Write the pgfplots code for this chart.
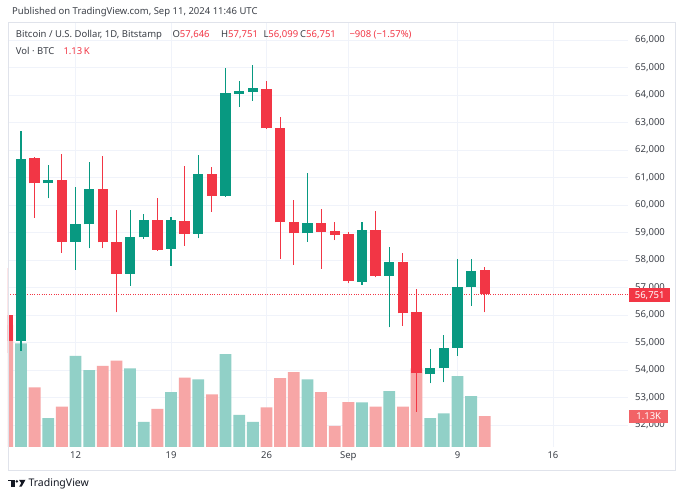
\documentclass[border=0pt]{standalone}
\usepackage{pgfplots}
\pgfplotsset{compat=1.18}
\usepackage{pgfplotstable}
\usepackage{fontspec}
\setmainfont{Noto Sans}
\definecolor{tvgreen}{RGB}{8,153,129}
\definecolor{tvred}{RGB}{242,54,69}
\definecolor{volgreen}{RGB}{145,208,199}
\definecolor{volred}{RGB}{247,166,166}
\definecolor{gridc}{RGB}{240,243,250}
\definecolor{framec}{RGB}{224,227,235}
\definecolor{txt}{RGB}{19,23,34}
\definecolor{txtg}{RGB}{60,64,72}
\definecolor{volbox}{RGB}{242,98,102}

% day index: 0 = Aug 12, 20 = Sep 1, 30 = Sep 11
\pgfplotstableread{
d o h l c v
-4 55055 62702 54691 61662 3.78
-2 60790 61455 60244 60909 1.05
0 58666 60666 57637 59310 3.33
1 59299 61553 58426 60571 2.81
4 57492 59819 57066 58848 2.87
5 58826 59673 58780 59455 0.92
7 58400 59575 57793 59455 2.00
9 58946 61818 58790 61128 2.47
11 60328 64971 60300 64062 3.39
12 64036 64509 63575 64146 1.17
13 64120 65091 63793 64244 0.92
17 58971 61153 58666 59335 2.47
21 57211 59371 57091 59091 1.63
23 57430 58484 55553 57928 2.04
26 53844 54764 53517 54084 1.05
27 54062 55273 53553 54801 1.23
28 54812 58037 54521 57030 2.59
29 57008 58037 56339 57611 1.86
}\up
\pgfplotstableread{
d o h l c v
-5 56000 57700 54600 55055 4.45
-3 61720 61760 59539 60790 2.18
-1 60909 61855 58266 58666 1.47
2 60571 61782 58426 58644 2.96
3 58655 59819 56099 57492 3.15
6 59455 60244 58330 58364 1.39
8 59430 61418 58510 58946 2.53
10 61128 61371 59757 60328 1.92
14 64207 64509 62760 62789 1.45
15 62789 63189 58037 59371 2.51
16 59393 60182 57818 58971 2.73
18 59335 59855 57673 59030 2.00
19 59055 59393 58727 58909 0.77
20 58946 59000 57153 57248 1.64
22 59091 59782 57372 57419 1.47
24 57928 58266 55600 56062 1.47
25 56121 56946 52484 53880 2.87
30 57646 57751 56099 56751 1.13
}\down

\pgfplotsset{tvbase/.style={at={(8pt,53pt)}, anchor=south west, scale only axis,
  width=620pt, height=424.3pt, xmin=-4.95, xmax=40.5},
  candle/.style={draw=none, mark=none,
  error bars/.cd, y dir=plus, y explicit, error mark=none,
  error bar style={draw=#1, line width=1.1pt}},
  body/.style={draw=none, mark=none,
  error bars/.cd, y dir=plus, y explicit, error mark=none,
  error bar style={draw=#1, line width=10.4pt}}}
\newcommand{\tf}{\fontsize{9.5}{11}\selectfont}

\begin{document}
\begin{tikzpicture}
\useasboundingbox (0pt,0pt) rectangle (683pt,500pt);
\fill[white] (0pt,0pt) rectangle (683pt,500pt);

% grid and scale labels
\begin{axis}[tvbase, ymin=51200, ymax=66629,
  axis line style={draw=none},
  major tick length=0pt,
  xtick={0,7,14,20,28,35}, xticklabels={12,19,26,Sep,9,16},
  ytick={52000,53000,...,66000},
  scaled y ticks=false,
  grid=major, grid style={gridc, line width=0.8pt},
  yticklabel pos=right,
  yticklabel style={anchor=west, inner sep=0pt, xshift=7pt, font=\tf, text=txtg},
  xticklabel style={font=\tf, text=txtg, yshift=-1pt},
  /pgf/number format/.cd, 1000 sep={,}, assume math mode=true]
\addplot[draw=none] coordinates {(0,60000)};
\end{axis}

% volume
\begin{axis}[tvbase, ymin=0, ymax=15.49, hide axis]
\addplot[ybar, bar width=11.8pt, bar shift=0pt, fill=volgreen, draw=none] table[x=d,y=v]{\up};
\addplot[ybar, bar width=11.8pt, bar shift=0pt, fill=volred, draw=none] table[x=d,y=v]{\down};
\coordinate (vl) at (axis cs:40.5,1.13);
\end{axis}

% candles
\begin{axis}[tvbase, ymin=51200, ymax=66629, hide axis]
\addplot[tvred, line width=0.7pt, dash pattern=on 0.8pt off 1.6pt] coordinates {(-4.95,56751) (40.5,56751)};
\addplot[candle=tvgreen] table[x=d, y=l, y error expr=\thisrow{h}-\thisrow{l}]{\up};
\addplot[candle=tvred] table[x=d, y=l, y error expr=\thisrow{h}-\thisrow{l}]{\down};
\addplot[body=tvgreen] table[x=d, y=o, y error expr=\thisrow{c}-\thisrow{o}]{\up};
\addplot[body=tvred] table[x=d, y=c, y error expr=\thisrow{o}-\thisrow{c}]{\down};
\coordinate (pl) at (axis cs:40.5,56751);
\end{axis}

% frame
\draw[framec, line width=0.8pt] (8pt,30pt) rectangle (675pt,477.3pt);

% price boxes
\node[fill=tvred, text=white, anchor=west, minimum width=41pt, minimum height=14pt, inner sep=0pt, font=\tf\bfseries] at ([xshift=1pt,yshift=-1pt]pl) {56,751};
\node[fill=volbox, text=white, anchor=west, minimum width=39pt, minimum height=13pt, inner sep=0pt, font=\tf\bfseries] at ([xshift=1pt]vl) {1.13K};

% header
\node[anchor=west, inner sep=0pt, text=txtg, font=\tf] at (12pt,488pt) {Published on TradingView.com, Sep 11, 2024 11:46 UTC};
\node[anchor=west, inner sep=0pt, text=txtg, font=\tf] at (15.7pt,465pt) {Bitcoin / U.S. Dollar, 1D, Bitstamp};
\node[anchor=west, inner sep=0pt, text=txtg, font=\tf] at (172.3pt,465pt) {O\textcolor{tvred}{57,646}};
\node[anchor=west, inner sep=0pt, text=txtg, font=\tf] at (221pt,465pt) {H\textcolor{tvred}{57,751}};
\node[anchor=west, inner sep=0pt, text=txtg, font=\tf] at (263.3pt,465pt) {L\textcolor{tvred}{56,099}};
\node[anchor=west, inner sep=0pt, text=txtg, font=\tf] at (300pt,465pt) {C\textcolor{tvred}{56,751}};
\node[anchor=west, inner sep=0pt, text=tvred, font=\tf] at (349.3pt,465pt) {−908 (−1.57\%)};
\node[anchor=west, inner sep=0pt, text=txtg, font=\tf] at (15.7pt,449.3pt) {Vol · BTC};
\node[anchor=west, inner sep=0pt, text=tvred, font=\tf] at (63.3pt,449.3pt) {1.13\,K};

% footer logo
\fill[txt] (8.3pt,18.5pt) rectangle (14.5pt,20.2pt);
\fill[txt] (11.2pt,13.3pt) rectangle (14.5pt,20.2pt);
\fill[txt] (16.8pt,18.6pt) circle (1.4pt);
\fill[txt] (19pt,20.2pt) -- (25.5pt,20.2pt) -- (21.6pt,13.3pt) -- (19.2pt,13.3pt) -- (21.2pt,17pt) -- cycle;
\node[anchor=west, inner sep=0pt, text=txt, font=\fontsize{10.5}{12}\selectfont] at (28.3pt,16pt) {TradingView};
\end{tikzpicture}
\end{document}
